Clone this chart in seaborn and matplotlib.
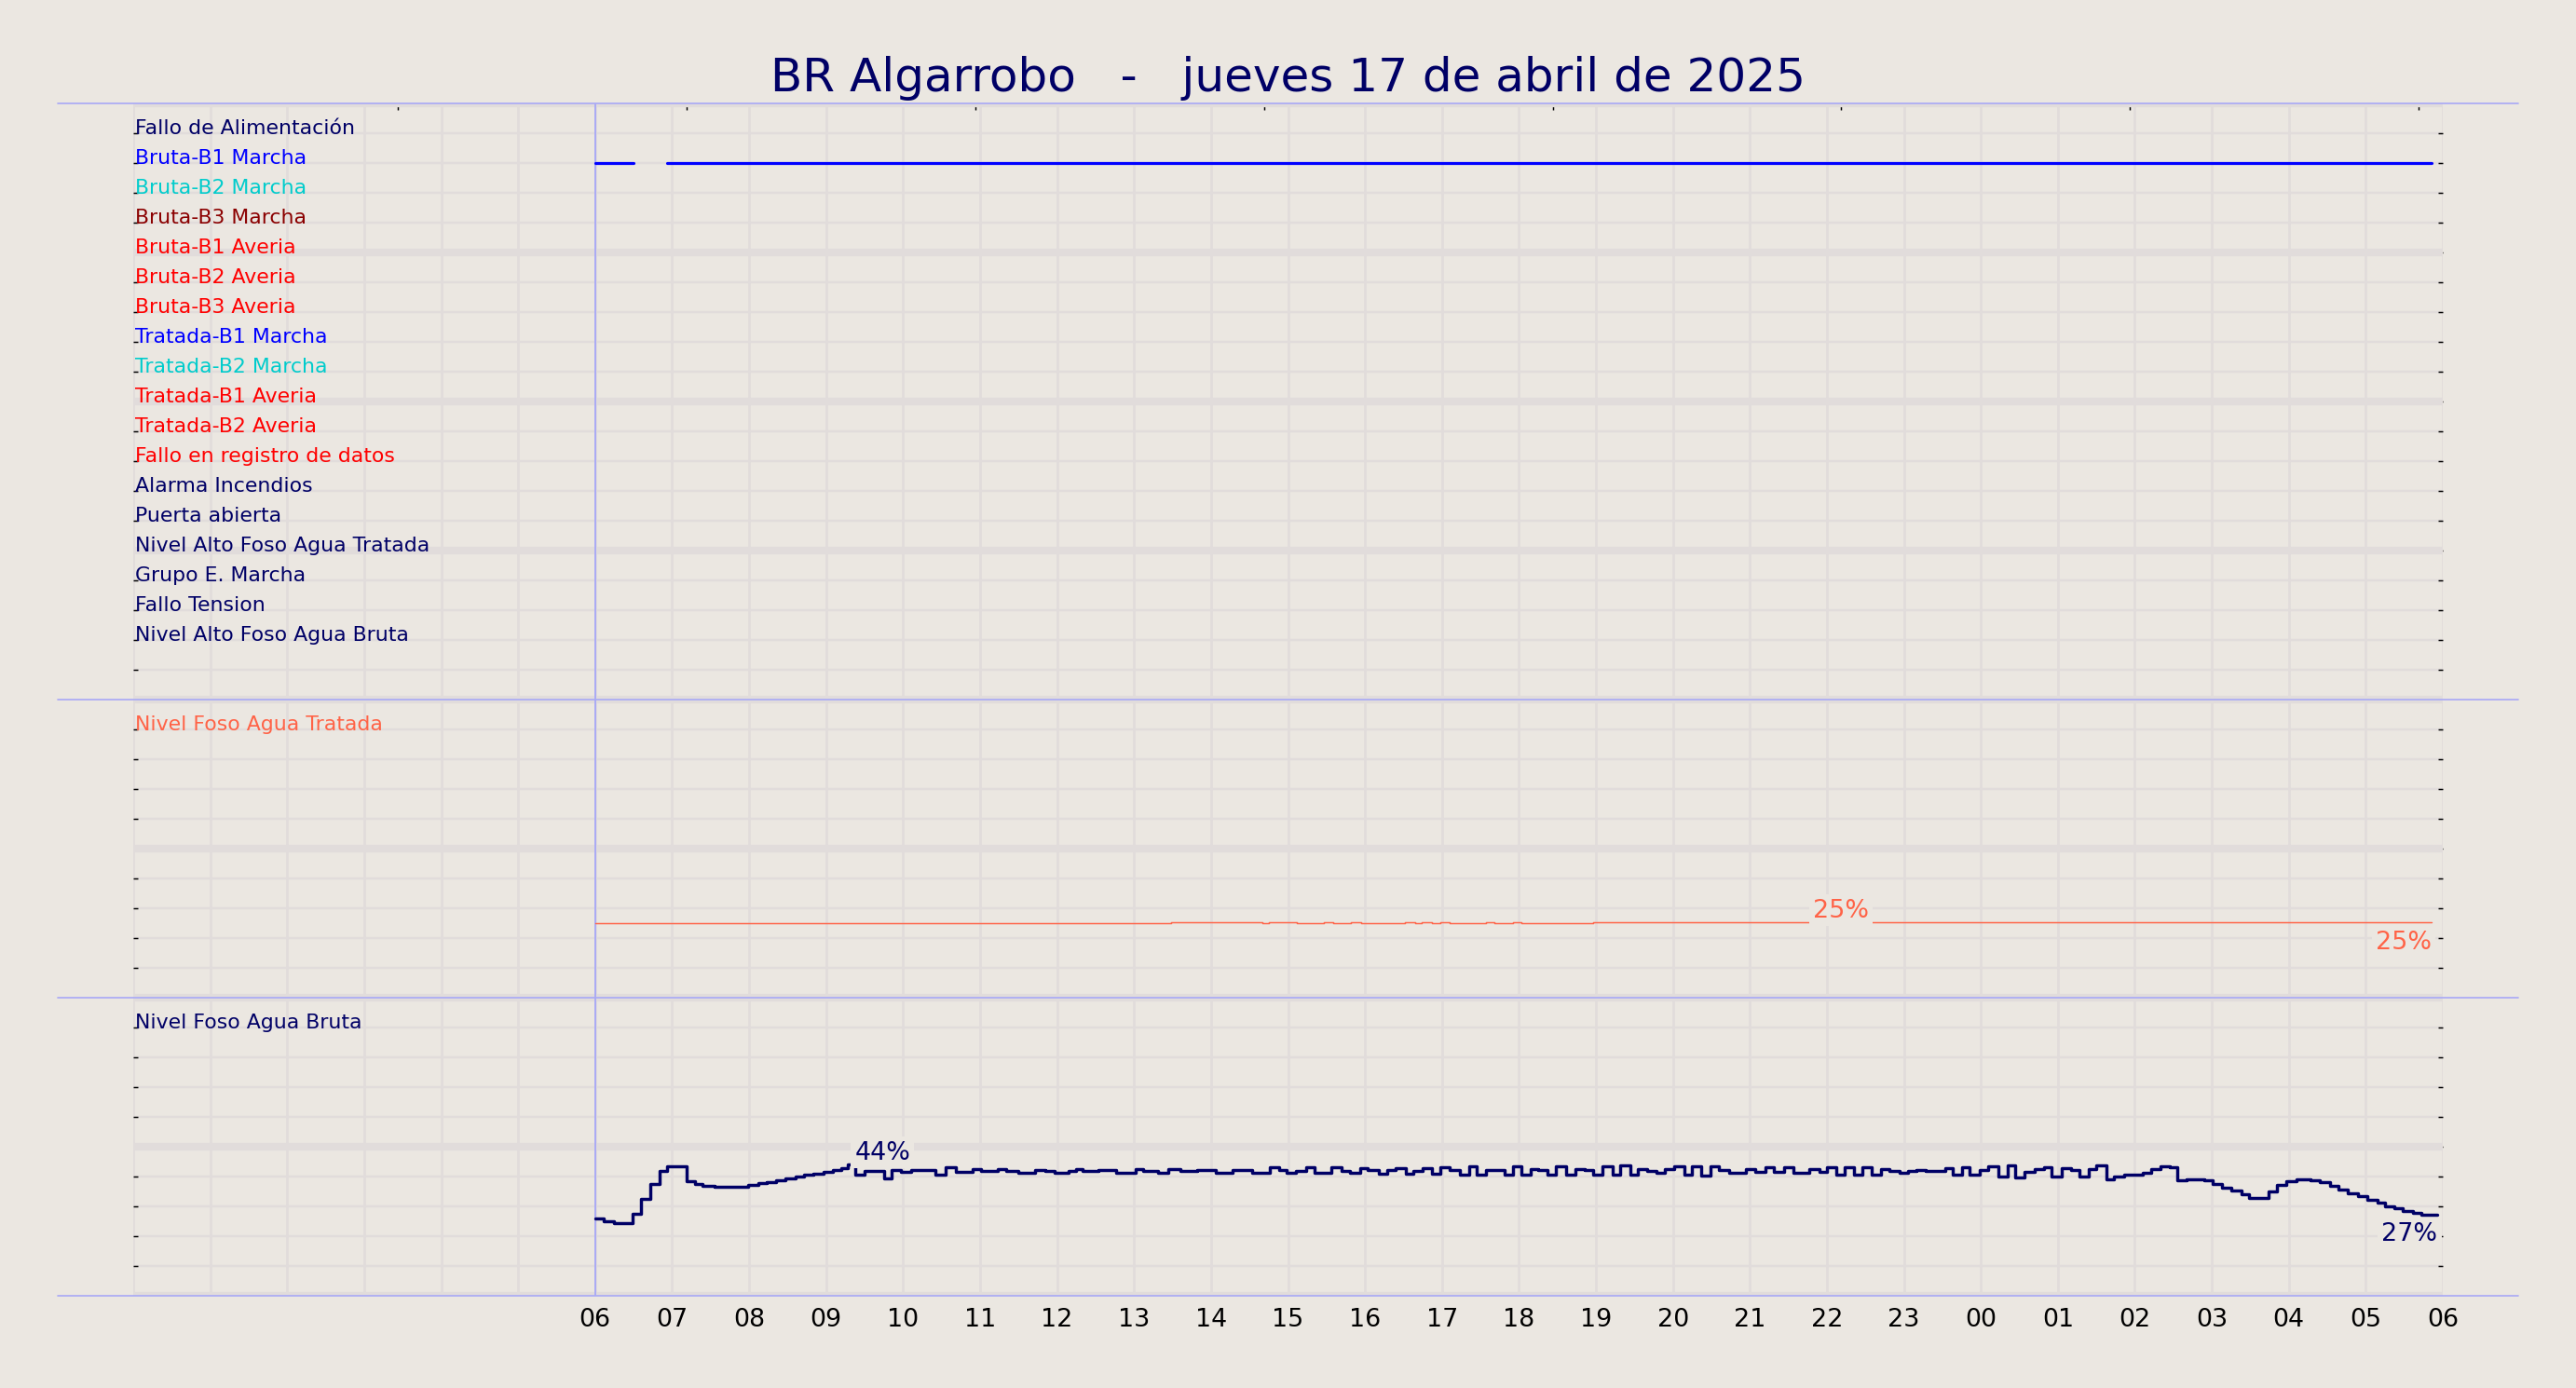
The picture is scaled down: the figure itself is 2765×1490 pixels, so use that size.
import numpy as np
import pandas as pd
import matplotlib.pyplot as plt
from matplotlib.lines import Line2D
import seaborn as sns

# colores
BG = '#ebe7e1'
GRID = '#e1dcdb'
SEP = '#aaaaf5'
NAVY = '#000066'

titulo = "BR Algarrobo   -   jueves 17 de abril de 2025"

senales = ["Fallo de Alimentación", "Bruta-B1 Marcha", "Bruta-B2 Marcha", "Bruta-B3 Marcha",
           "Bruta-B1 Averia", "Bruta-B2 Averia", "Bruta-B3 Averia", "Tratada-B1 Marcha",
           "Tratada-B2 Marcha", "Tratada-B1 Averia", "Tratada-B2 Averia", "Fallo en registro de datos",
           "Alarma Incendios", "Puerta abierta", "Nivel Alto Foso Agua Tratada", "Grupo E. Marcha",
           "Fallo Tension", "Nivel Alto Foso Agua Bruta"]
colores_senal = [NAVY, 'blue', '#00cccc', '#8b0000', 'red', 'red', 'red', 'blue', '#00cccc',
                 'red', 'red', 'red', NAVY, NAVY, NAVY, NAVY, NAVY, NAVY]

# Bruta-B1 en marcha (intervalos)
b1_inicio = ["06:00", "06:56"]
b1_fin = ["06:30", "05:51"]

# Nivel foso agua tratada (%)
tratada_t = ["06:00", "13:29", "14:40", "14:45", "15:07", "15:28", "15:35", "15:49", "15:57",
             "16:31", "16:39", "16:44", "16:52", "16:59", "17:06", "17:34", "17:41", "17:55",
             "18:02", "18:58", "21:44", "21:58", "05:51"]
tratada_v = [24.9, 25.2, 24.9, 25.2, 24.9, 25.2, 24.9, 25.2, 24.9,
             25.2, 24.9, 25.2, 24.9, 25.2, 24.9, 25.2, 24.9, 25.2,
             24.9, 25.2, 25.4, 25.2, 25.2]

# Nivel foso agua bruta (%)
bruta_t = ["06:00", "06:07", "06:15", "06:22", "06:29", "06:36", "06:43", "06:50", "06:56", "07:11",
           "07:18", "07:24", "07:33", "07:59", "08:07", "08:14", "08:21", "08:28", "08:36", "08:43",
           "08:50", "08:58", "09:05", "09:12", "09:17", "09:23", "09:30", "09:45", "09:51", "09:58",
           "10:06", "10:25", "10:33", "10:41", "10:54", "11:01", "11:14", "11:20", "11:30", "11:43",
           "11:51", "11:58", "12:09", "12:15", "12:20", "12:32", "12:46", "13:01", "13:07", "13:19",
           "13:27", "13:36", "13:49", "14:04", "14:17", "14:32", "14:46", "14:53", "14:59", "15:06",
           "15:14", "15:21", "15:34", "15:42", "15:48", "15:56", "16:02", "16:11", "16:17", "16:24",
           "16:32", "16:38", "16:45", "16:52", "16:59", "17:06", "17:14", "17:21", "17:27", "17:34",
           "17:49", "17:55", "18:02", "18:09", "18:15", "18:22", "18:29", "18:37", "18:44", "18:51",
           "18:58", "19:05", "19:13", "19:19", "19:27", "19:33", "19:40", "19:47", "19:54", "20:01",
           "20:09", "20:15", "20:22", "20:29", "20:36", "20:44", "20:57", "21:04", "21:12", "21:19",
           "21:27", "21:34", "21:46", "21:54", "22:00", "22:07", "22:14", "22:21", "22:28", "22:35",
           "22:42", "22:49", "22:57", "23:03", "23:10", "23:17", "23:32", "23:38", "23:45", "23:51",
           "23:59", "00:06", "00:14", "00:21", "00:27", "00:34", "00:42", "00:49", "00:55", "01:03",
           "01:10", "01:17", "01:24", "01:30", "01:38", "01:44", "01:52", "02:06", "02:13", "02:20",
           "02:27", "02:33", "02:40", "02:54", "03:01", "03:08", "03:15", "03:23", "03:29", "03:44",
           "03:51", "03:58", "04:06", "04:17", "04:24", "04:32", "04:39", "04:46", "04:54", "05:01",
           "05:09", "05:15", "05:22", "05:29", "05:37", "05:43", "05:56"]
bruta_v = [26.0, 25.1, 24.5, 24.3, 27.4, 32.4, 37.4, 41.8, 43.3, 38.4,
           37.4, 36.9, 36.6, 37.1, 37.7, 38.2, 38.7, 39.4, 39.9, 40.5,
           41.0, 41.6, 42.1, 42.8, 44.1, 40.5, 42.0, 39.4, 42.3, 41.6,
           42.2, 40.7, 43.0, 41.5, 42.6, 41.8, 42.6, 41.8, 41.3, 42.3,
           41.8, 41.3, 42.0, 42.6, 42.0, 42.3, 41.4, 42.5, 41.8, 41.4,
           42.6, 41.8, 42.3, 41.4, 42.3, 41.4, 43.0, 42.1, 41.4, 42.0,
           43.0, 41.4, 43.0, 42.0, 41.4, 42.8, 42.1, 41.0, 42.3, 42.8,
           41.0, 41.8, 42.8, 41.0, 43.1, 42.3, 40.5, 43.3, 40.7, 42.3,
           40.5, 43.5, 40.7, 42.6, 42.3, 40.5, 43.3, 40.5, 42.6, 42.3,
           40.5, 43.3, 40.5, 43.9, 40.5, 42.4, 41.8, 41.3, 42.6, 43.3,
           40.5, 43.3, 40.2, 43.3, 42.3, 41.4, 42.5, 41.6, 43.1, 41.6,
           43.1, 41.4, 42.4, 41.6, 43.1, 40.7, 43.1, 40.7, 43.1, 40.7,
           42.6, 41.8, 41.3, 42.0, 42.3, 41.8, 42.8, 40.5, 43.1, 40.7,
           42.3, 43.3, 39.9, 43.6, 39.7, 41.6, 42.6, 43.0, 39.9, 42.8,
           42.3, 39.9, 42.6, 43.6, 39.2, 39.9, 40.5, 41.3, 42.4, 43.3,
           43.1, 38.9, 39.2, 38.6, 37.4, 36.3, 35.3, 34.2, 32.9, 35.0,
           37.1, 38.3, 39.0, 38.7, 38.1, 36.9, 35.7, 34.5, 33.4, 32.2,
           31.2, 30.1, 29.3, 28.4, 27.9, 27.2, 27.2]


def horas(hhmm):
    # horas desde las 00:00 del 17/04 (lo anterior a las 06 es del dia siguiente)
    h, m = map(int, hhmm.split(":"))
    if h < 6:
        h += 24
    return h + m / 60


sns.set_theme(style="ticks")
plt.rcParams['font.family'] = ['DejaVu Sans']

fig = plt.figure(figsize=(2765 / 176, 1491 / 176), dpi=176, facecolor=BG)
gs = fig.add_gridspec(3, 1, height_ratios=[2, 1, 1], hspace=0,
                      left=143 / 2765, right=2622 / 2765,
                      top=1 - 112 / 1491, bottom=1 - 1392 / 1491)
ax_sen = fig.add_subplot(gs[0])
ax_tra = fig.add_subplot(gs[1], sharex=ax_sen)
ax_bru = fig.add_subplot(gs[2], sharex=ax_sen)

for ax in (ax_sen, ax_tra, ax_bru):
    ax.set_facecolor(BG)
    for s in ax.spines.values():
        s.set_visible(False)
    ax.set_xlim(0, 30)
    ax.set_xticks(range(31))
    ax.grid(axis='x', color=GRID, lw=1.1, zorder=0)
    ax.grid(axis='y', color=GRID, lw=1.0, zorder=0)
    ax.tick_params(axis='x', length=0, labelbottom=False)
    ax.tick_params(axis='y', direction='in', length=2.2, width=0.6, color='black',
                   left=True, right=True, labelleft=False, labelright=False)
    ax.axvline(6, color=SEP, lw=0.8, zorder=1)
    ax.set_xlabel('')
    ax.set_ylabel('')

# panel de señales
ax_sen.set_ylim(20, 0)
ax_sen.set_yticks(range(1, 20))
for y in range(0, 21, 5):
    ax_sen.axhline(y, color=GRID, lw=3.4, zorder=0.6)
for i, (nombre, c) in enumerate(zip(senales, colores_senal)):
    ax_sen.text(0.02, i + 1, nombre, color=c, fontsize=9, ha='left', va='baseline')

fila_b1 = senales.index("Bruta-B1 Marcha") + 1
df_b1 = pd.DataFrame({
    't': [horas(t) for par in zip(b1_inicio, b1_fin) for t in par],
    'y': [fila_b1] * (2 * len(b1_inicio)),
    'seg': [k for k in range(len(b1_inicio)) for _ in range(2)],
})
sns.lineplot(data=df_b1, x='t', y='y', units='seg', estimator=None, color='#0000ff',
             lw=1.3, ax=ax_sen, legend=False)
ax_sen.set_xlabel('')
ax_sen.set_ylabel('')

sec = ax_sen.secondary_xaxis('top')
sec.set_xticks(np.arange(3.4375, 30, 3.75))
sec.tick_params(axis='x', direction='in', length=3, width=0.6, color='black',
                top=True, bottom=False, labeltop=False, labelbottom=False)
for s in sec.spines.values():
    s.set_visible(False)


def panel_nivel(ax, tiempos, valores, color, nombre, lw):
    ax.set_ylim(0, 100)
    ax.set_yticks(range(10, 100, 10))
    for y in (0, 50, 100):
        ax.axhline(y, color=GRID, lw=3.4, zorder=0.6)
    ax.text(0.02, 90, nombre, color=color, fontsize=9, ha='left', va='baseline')
    t = np.array([horas(x) for x in tiempos])
    v = np.array(valores)
    sns.lineplot(x=t, y=v, ax=ax, color=color, lw=lw, drawstyle='steps-post',
                 estimator=None, sort=False)
    ax.set_xlabel('')
    ax.set_ylabel('')
    caja = dict(boxstyle='square,pad=0.15', fc=BG, ec='none')
    imax = int(np.argmax(v))
    ax.annotate(f"{v[imax]:.0f}%", (t[imax], v[imax]), xytext=(3, 0), textcoords='offset points',
                ha='left', va='bottom', fontsize=11, color=color, bbox=caja, zorder=5)
    ax.annotate(f"{v[-1]:.0f}%", (t[-1], v[-1]), xytext=(0, -3), textcoords='offset points',
                ha='right', va='top', fontsize=11, color=color, bbox=caja, zorder=5)


panel_nivel(ax_tra, tratada_t, tratada_v, '#ff6347', "Nivel Foso Agua Tratada", 0.6)
panel_nivel(ax_bru, bruta_t, bruta_v, NAVY, "Nivel Foso Agua Bruta", 1.4)

ax_bru.set_xticklabels(['' if h < 6 else f"{h % 24:02d}" for h in range(31)])
ax_bru.tick_params(axis='x', labelbottom=True, labelsize=11, pad=5, length=0, labelcolor='black')

# separadores
for y in (112, 752, 1072, 1392):
    fig.add_artist(Line2D([62 / 2765, 2703 / 2765], [1 - y / 1491] * 2, color=SEP, lw=0.7,
                          transform=fig.transFigure))

fig.text(0.5, 1 - 98 / 1491, titulo, ha='center', va='baseline', fontsize=20.5, color=NAVY)

fig.savefig('out.png', dpi=176, facecolor=BG)
